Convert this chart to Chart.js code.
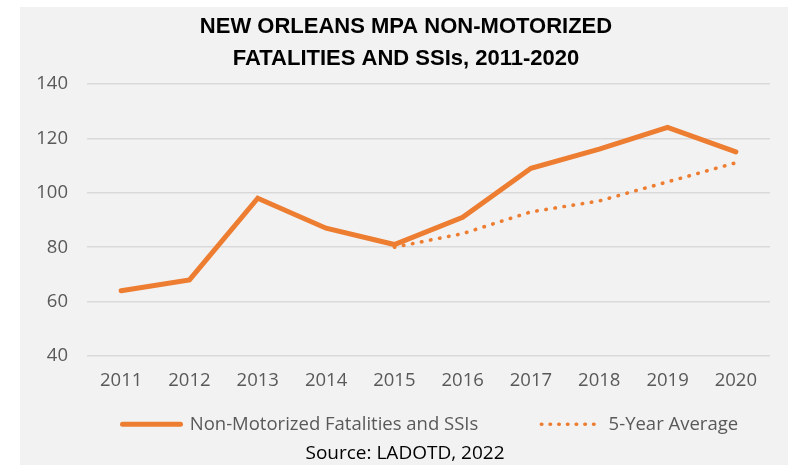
<!DOCTYPE html>
<html>
<head>
<meta charset="utf-8">
<script src="https://cdn.jsdelivr.net/npm/chart.js@4.4.1/dist/chart.umd.min.js"></script>
<style>
  html, body { margin: 0; padding: 0; background: #ffffff; overflow: hidden; }
  #wrap { position: absolute; left: 20px; top: 7px; width: 768px; height: 458px; background: #f2f2f2; }
  canvas { display: block; }
</style>
</head>
<body>
<div id="wrap"><canvas id="c" width="768" height="458"></canvas></div>
<script>
const years = ['2011','2012','2013','2014','2015','2016','2017','2018','2019','2020'];
const nonMotorized = [64, 68, 98, 87, 81, 91, 109, 116, 124, 115];
const fiveYearAvg = [null, null, null, null, 80, 85, 93, 97, 104, 111];
const yTicks = [40, 60, 80, 100, 120, 140];
const titleLines = ['NEW ORLEANS MPA NON-MOTORIZED', 'FATALITIES AND SSIs, 2011-2020'];
const sourceText = 'Source: LADOTD, 2022';

const ORANGE = '#ED7D31';
const tickFont = { family: "'Open Sans', sans-serif", size: 18.5 };

// adjust placement of the legend row and centre of title / source boxes
const boxPlace = {
  id: 'boxPlace',
  afterLayout(chart) {
    const lg = chart.legend;
    if (lg) {
      const pad = lg.options.labels.padding;
      const itemLeft = 102.5, itemTop = 408;
      lg.left = itemLeft - pad;
      lg.right = 800;
      lg.top = itemTop - pad;
      lg.bottom = itemTop + 30;
      lg.width = lg.right - lg.left;
      lg.height = lg.bottom - lg.top;
    }
    chart.boxes.forEach(b => {
      if (!b.options || b === lg) return;
      if (b.options.text === titleLines) { b.left += 22; b.right += 0; b.width = b.right - b.left; }
      else if (b.options.text === sourceText) { b.left += 20; b.width = b.right - b.left; }
    });
  }
};

new Chart(document.getElementById('c'), {
  type: 'line',
  data: {
    labels: years,
    datasets: [
      {
        label: 'Non-Motorized Fatalities and SSIs',
        data: nonMotorized,
        borderColor: ORANGE,
        backgroundColor: ORANGE,
        borderWidth: 5,
        borderCapStyle: 'round',
        borderJoinStyle: 'miter',
        pointRadius: 0,
        tension: 0
      },
      {
        label: '5-Year Average',
        data: fiveYearAvg,
        borderColor: ORANGE,
        backgroundColor: ORANGE,
        borderWidth: 3.6,
        borderDash: [0.5, 8.7],
        borderCapStyle: 'round',
        pointRadius: 0,
        tension: 0,
        spanGaps: false
      }
    ]
  },
  options: {
    responsive: false,
    animation: false,
    layout: { padding: { left: 0, right: 18, top: 0, bottom: 0 } },
    plugins: {
      title: {
        display: true,
        text: titleLines,
        color: '#000000',
        font: { family: "'Liberation Sans Narrow', 'Arial Narrow', sans-serif", size: 22, weight: 'bold', lineHeight: 1.45 },
        padding: { top: 4, bottom: 9 }
      },
      subtitle: {
        display: true,
        position: 'bottom',
        text: sourceText,
        color: '#000000',
        font: { family: "'Open Sans', sans-serif", size: 19, lineHeight: 1.2 },
        padding: { top: 0, bottom: 0 }
      },
      legend: {
        display: true,
        position: 'bottom',
        align: 'start',
        maxHeight: 30,
        labels: {
          color: '#595959',
          font: { family: "'Open Sans', sans-serif", size: 18.5 },
          usePointStyle: true,
          pointStyle: 'line',
          pointStyleWidth: 58,
          padding: 63,
          generateLabels(chart) {
            return chart.data.datasets.map((ds, i) => ({
              text: ds.label,
              fillStyle: ORANGE,
              strokeStyle: ORANGE,
              lineWidth: i === 0 ? 5 : 3.6,
              lineDash: i === 0 ? [] : [0.5, 8.2],
              lineCap: 'round',
              pointStyle: 'line',
              fontColor: '#595959',
              datasetIndex: i,
              hidden: false
            }));
          }
        }
      },
      tooltip: { enabled: false }
    },
    scales: {
      x: {
        offset: true,
        grid: { display: false, drawTicks: false },
        border: { display: false },
        ticks: { color: '#595959', font: tickFont, padding: 13, maxRotation: 0 },
        afterFit(scale) { scale.height = 56; }
      },
      y: {
        min: 40,
        max: 140,
        afterBuildTicks(scale) { scale.ticks = yTicks.map(v => ({ value: v })); },
        grid: { color: '#d9d9d9', lineWidth: 1.5, drawTicks: false },
        border: { display: false },
        ticks: { color: '#595959', font: tickFont, padding: 19 },
        afterFit(scale) { scale.width = 67; }
      }
    }
  },
  plugins: [boxPlace]
});
</script>
</body>
</html>
